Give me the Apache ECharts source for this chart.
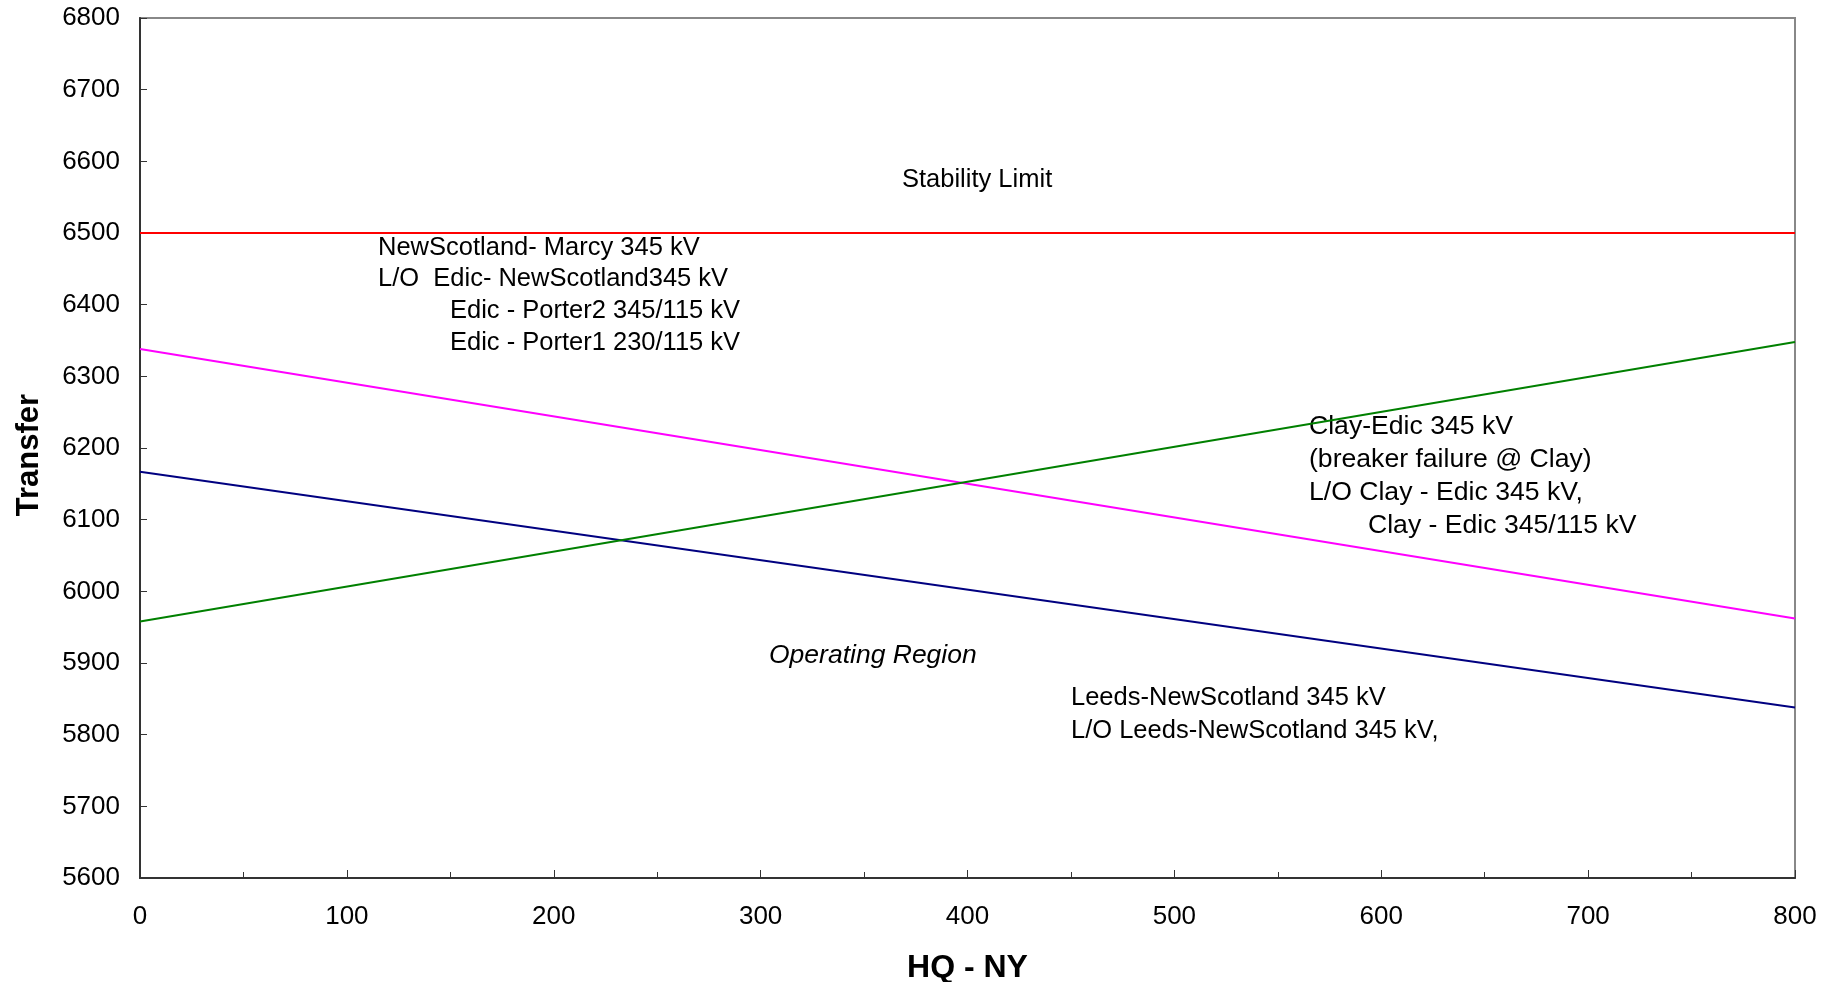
<!DOCTYPE html>
<html><head><meta charset="utf-8">
<script src="https://cdn.jsdelivr.net/npm/echarts@6/dist/echarts.min.js"></script>
<style>html,body{margin:0;padding:0;background:#fff}#c{width:1841px;height:982px}</style>
</head><body><div id="c"></div>
<script>
var xValues = [0, 800];
var stabilityLimit = [6500, 6500];
var newScotlandMarcy = [6338, 5962];
var leedsNewScotland = [6167, 5838];
var clayEdic = [5958, 6348];
var yTicks = [5600, 6800, 100];
var xTicks = [0, 800, 100];

function pairs(ys){ return xValues.map(function(x,i){ return [x, ys[i]]; }); }

var chart = echarts.init(document.getElementById('c'));
var annFont = '"Liberation Sans", Arial, sans-serif';
function txt(x, y, s, size, italic){
  return {type:'text', x:x, y:y, style:{text:s, x:0, y:0, font:(italic?'italic ':'')+size+'px '+annFont, fill:'#000', verticalAlign:'middle', textVerticalAlign:'middle'}};
}
chart.setOption({
  animation:false,
  grid:{left:140, right:46, top:18, bottom:104, show:true, borderColor:'#888', borderWidth:2, containLabel:false, outerBoundsMode:'none'},
  xAxis:{type:'value', min:xTicks[0], max:xTicks[1], interval:xTicks[2],
    name:'HQ - NY', nameLocation:'middle', nameGap:74,
    nameTextStyle:{fontFamily:'Liberation Sans, Arial', fontWeight:'bold', fontSize:32, color:'#000'},
    axisLine:{lineStyle:{color:'#333', width:2}},
    axisTick:{inside:true, length:8, lineStyle:{color:'#333'}},
    minorTick:{show:true, splitNumber:2, length:6, lineStyle:{color:'#333'}},
    splitLine:{show:false},
    axisLabel:{fontFamily:'Liberation Sans, Arial', fontSize:26, color:'#000', margin:26, formatter:function(v){return String(v);}}},
  yAxis:{type:'value', min:yTicks[0], max:yTicks[1], interval:yTicks[2],
    axisLine:{lineStyle:{color:'#333', width:2}},
    axisTick:{inside:true, length:7, lineStyle:{color:'#333'}},
    splitLine:{show:false},
    axisLabel:{fontFamily:'Liberation Sans, Arial', fontSize:26, color:'#000', margin:20, formatter:function(v){return String(v);}}},
  series:[
    {type:'line', data:pairs(stabilityLimit), symbol:'none', lineStyle:{color:'#ff0000', width:2}},
    {type:'line', data:pairs(newScotlandMarcy), symbol:'none', lineStyle:{color:'#ff00ff', width:2}},
    {type:'line', data:pairs(leedsNewScotland), symbol:'none', lineStyle:{color:'#000080', width:2}},
    {type:'line', data:pairs(clayEdic), symbol:'none', lineStyle:{color:'#008000', width:2}}
  ],
  graphic:[
    {type:'text', x:29, y:455, rotation:Math.PI/2, style:{text:'Transfer', x:0, y:0, align:'center', verticalAlign:'middle', textAlign:'center', textVerticalAlign:'middle', font:'bold 31px "Liberation Sans", Arial, sans-serif', fill:'#000'}},
    txt(902, 180, 'Stability Limit', 25.5),
    txt(378, 248, 'NewScotland- Marcy 345 kV', 25.5),
    txt(378, 279, 'L/O  Edic- NewScotland345 kV', 25.5),
    txt(450, 311, 'Edic - Porter2 345/115 kV', 25.5),
    txt(450, 343, 'Edic - Porter1 230/115 kV', 25.5),
    txt(1309, 427, 'Clay-Edic 345 kV', 26.6),
    txt(1309, 460, '(breaker failure @ Clay)', 26.6),
    txt(1309, 493, 'L/O Clay - Edic 345 kV,', 26.6),
    txt(1368, 526, 'Clay - Edic 345/115 kV', 26.6),
    txt(769, 656, 'Operating Region', 26.5, true),
    txt(1071, 698, 'Leeds-NewScotland 345 kV', 25.5),
    txt(1071, 731, 'L/O Leeds-NewScotland 345 kV,', 25.5)
  ]
});
</script></body></html>
